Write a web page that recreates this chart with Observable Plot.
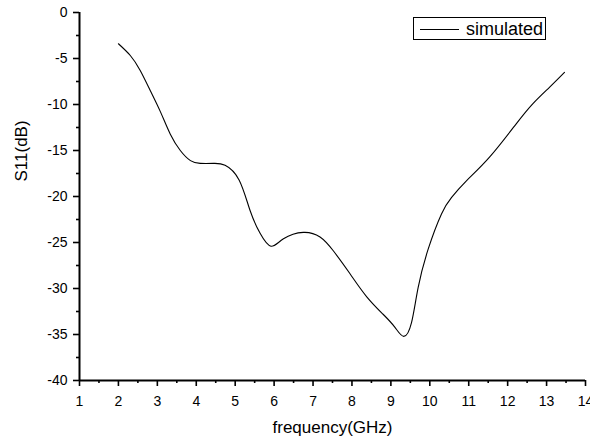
<!DOCTYPE html>
<html>
<head>
<meta charset="utf-8">
<script src="https://cdn.jsdelivr.net/npm/d3@7"></script>
<script src="https://cdn.jsdelivr.net/npm/@observablehq/plot@0.6"></script>
<style>
  html, body { margin: 0; padding: 0; background: #fff; }
  #wrap { position: relative; width: 590px; height: 443px; font-family: "Liberation Sans", Arial, sans-serif; }
  #legend { position: absolute; left: 413px; top: 17px; width: 133px; height: 23px; border: 1px solid #000; box-sizing: border-box; background: #fff; }
  #legend svg { position: absolute; left: 0; top: 0; }
  #legend span { position: absolute; left: 52px; top: 1px; font-size: 18px; line-height: 20px; color: #000; }
</style>
</head>
<body>
<div id="wrap"></div>
<script>
const freq = [2.0, 2.31, 2.56, 2.82, 3.08, 3.33, 3.59, 3.85, 4.1, 4.44, 4.74, 5.1, 5.38, 5.64, 5.92, 6.24, 6.75, 7.18, 7.52, 7.95, 8.38, 8.8, 9.1, 9.33, 9.53, 9.7, 9.96, 10.3, 10.56, 10.94, 11.54, 12.22, 12.65, 13.08, 13.46];
const s11  = [-3.4, -4.7, -6.3, -8.5, -10.8, -13.2, -15.0, -16.1, -16.4, -16.4, -16.6, -18.2, -21.5, -24.0, -25.4, -24.6, -23.9, -24.4, -25.9, -28.4, -30.9, -32.8, -34.2, -35.2, -33.7, -29.9, -25.7, -21.9, -20.1, -18.3, -15.7, -12.1, -9.9, -8.1, -6.5];
const xTicks = [1, 2, 3, 4, 5, 6, 7, 8, 9, 10, 11, 12, 13, 14];
const xMinor = [1.5, 2.5, 3.5, 4.5, 5.5, 6.5, 7.5, 8.5, 9.5, 10.5, 11.5, 12.5, 13.5];
const yTicks = [0, -5, -10, -15, -20, -25, -30, -35, -40];
const yMinor = [-2.5, -7.5, -12.5, -17.5, -22.5, -27.5, -32.5, -37.5];
const xLabel = "frequency(GHz)";
const yLabel = "S11(dB)";
const seriesName = "simulated";

const data = freq.map((f, i) => ({f, v: s11[i]}));

const chart = Plot.plot({
  width: 590,
  height: 443,
  marginLeft: 79,
  marginRight: 5,
  marginTop: 12,
  marginBottom: 63,
  style: {fontFamily: '"Liberation Sans", Arial, sans-serif', color: "#000", background: "#fff", overflow: "visible"},
  x: {domain: [1, 14]},
  y: {domain: [-40, 0]},
  marks: [
    Plot.axisX({ticks: xTicks, tickSize: 6, tickPadding: 9.5, fontSize: 14, label: null, strokeWidth: 1.6, tickFormat: d => String(d)}),
    Plot.axisX({ticks: xMinor, tickSize: 3, tickFormat: () => "", label: null, strokeWidth: 1.6}),
    Plot.axisY({ticks: yTicks, tickSize: 6, tickPadding: 6, fontSize: 14, label: null, strokeWidth: 1.6, tickFormat: d => String(d)}),
    Plot.axisY({ticks: yMinor, tickSize: 3, tickFormat: () => "", label: null, strokeWidth: 1.6}),
    Plot.ruleX([1], {strokeWidth: 2}),
    Plot.ruleY([-40], {strokeWidth: 2}),
    Plot.line(data, {x: "f", y: "v", curve: "natural", stroke: "#000", strokeWidth: 1.1}),
    Plot.text([xLabel], {frameAnchor: "bottom", dy: 52.6, fontSize: 17, fill: "#000"}),
    Plot.text([yLabel], {frameAnchor: "left", rotate: -90, dx: -57.7, dy: -15, fontSize: 17, fill: "#000"})
  ]
});

const wrap = document.getElementById("wrap");
wrap.appendChild(chart);
const legend = document.createElement("div");
legend.id = "legend";
legend.innerHTML = '<svg width="60" height="23"><line x1="6" x2="45" y1="11.5" y2="11.5" stroke="#000" stroke-width="1.1"/></svg><span></span>';
legend.querySelector("span").textContent = seriesName;
wrap.appendChild(legend);
</script>
</body>
</html>
